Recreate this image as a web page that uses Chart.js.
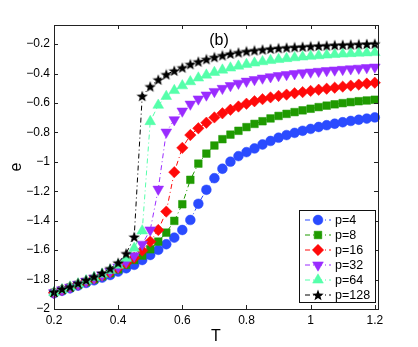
<!DOCTYPE html>
<html>
<head>
<meta charset="utf-8">
<script src="https://cdn.jsdelivr.net/npm/chart.js@4.4.1/dist/chart.umd.min.js"></script>
<style>
  body { margin: 0; background: #fff; }
  #wrap { width: 418px; height: 347px; }
</style>
</head>
<body>
<div id="wrap"><canvas id="eChart" width="418" height="347"></canvas></div>
<script>
var T = [0.2, 0.225, 0.25, 0.275, 0.3, 0.325, 0.35, 0.375, 0.4, 0.425, 0.45, 0.475, 0.5, 0.525, 0.55, 0.575, 0.6, 0.625, 0.65, 0.675, 0.7,
  0.725, 0.75, 0.775, 0.8, 0.825, 0.85, 0.875, 0.9, 0.925, 0.95, 0.975, 1.0, 1.025, 1.05, 1.075, 1.1, 1.125, 1.15, 1.175, 1.2];

var p4 = [-1.893, -1.876, -1.859, -1.841, -1.823, -1.805, -1.787, -1.769, -1.746, -1.723,
  -1.70, -1.667, -1.633, -1.598, -1.56, -1.515, -1.463, -1.395, -1.285, -1.19, -1.111, -1.047, -0.999, -0.961, -0.934,
  -0.909, -0.882, -0.858, -0.836, -0.818, -0.803, -0.789, -0.776, -0.763, -0.751, -0.741, -0.731, -0.722, -0.714, -0.706, -0.698];
var p8 = [-1.89, -1.872, -1.855, -1.836, -1.817, -1.798, -1.778, -1.757, -1.731, -1.70,
  -1.667, -1.637, -1.594, -1.542, -1.481, -1.401, -1.288, -1.122, -1.012, -0.944, -0.889, -0.846, -0.815, -0.789, -0.764,
  -0.742, -0.724, -0.705, -0.688, -0.674, -0.662, -0.65, -0.639, -0.628, -0.618, -0.609, -0.601, -0.594, -0.588, -0.583, -0.578];
var p16 = [-1.89, -1.871, -1.853, -1.833, -1.813, -1.793, -1.772, -1.75, -1.72, -1.688,
  -1.652, -1.603, -1.542, -1.463, -1.338, -1.07, -0.905, -0.818, -0.772, -0.734, -0.698, -0.67, -0.646, -0.624, -0.605,
  -0.588, -0.574, -0.562, -0.552, -0.543, -0.534, -0.526, -0.518, -0.51, -0.503, -0.496, -0.489, -0.482, -0.475, -0.468, -0.462];
var p32 = [-1.889, -1.87, -1.852, -1.832, -1.811, -1.79, -1.769, -1.745, -1.715, -1.68,
  -1.638, -1.56, -1.463, -1.186, -0.798, -0.714, -0.655, -0.608, -0.573, -0.546, -0.522, -0.501, -0.482, -0.466, -0.452,
  -0.441, -0.431, -0.422, -0.414, -0.407, -0.401, -0.395, -0.39, -0.385, -0.38, -0.376, -0.372, -0.368, -0.364, -0.36, -0.356];
var p64 = [-1.887, -1.868, -1.85, -1.829, -1.808, -1.786, -1.763, -1.737, -1.702, -1.655,
  -1.587, -1.469, -0.726, -0.615, -0.555, -0.515, -0.483, -0.455, -0.43, -0.41, -0.392, -0.376, -0.362, -0.349, -0.338,
  -0.328, -0.319, -0.311, -0.304, -0.298, -0.292, -0.287, -0.282, -0.278, -0.274, -0.27, -0.267, -0.264, -0.261, -0.259, -0.257];
var p128 = [-1.884, -1.864, -1.848, -1.825, -1.803, -1.78, -1.755, -1.725, -1.686, -1.623,
  -1.51, -0.553, -0.488, -0.442, -0.406, -0.381, -0.36, -0.337, -0.319, -0.303, -0.289, -0.277, -0.266, -0.257, -0.249,
  -0.243, -0.237, -0.232, -0.228, -0.224, -0.221, -0.218, -0.215, -0.212, -0.21, -0.207, -0.205, -0.203, -0.201, -0.199, -0.197];

var seriesLabels = ["p=4", "p=8", "p=16", "p=32", "p=64", "p=128"];
var xTicks = [0.2, 0.4, 0.6, 0.8, 1, 1.2];
var yTicks = [-2, -1.8, -1.6, -1.4, -1.2, -1, -0.8, -0.6, -0.4, -0.2];

var FONT = '"Liberation Sans", Arial, Helvetica, sans-serif';

// five-point star like matlab's 'p' marker
function makeStar(size, color) {
  var c = document.createElement("canvas");
  c.width = size;
  c.height = size;
  var g = c.getContext("2d");
  var R = size / 2, r = R * 0.42;
  g.fillStyle = color;
  g.beginPath();
  for (var k = 0; k < 10; k++) {
    var a = -Math.PI / 2 + k * Math.PI / 5;
    var rr = k % 2 ? r : R;
    g.lineTo(R + rr * Math.cos(a), R + rr * Math.sin(a) + 0.5);
  }
  g.closePath();
  g.fill();
  return c;
}
var star = makeStar(12, "#000");

var looks = [
  { color: "#2a4bff", style: "circle", radius: 4.9, rotation: 0 },
  { color: "#1f9a00", style: "rect", radius: 5.4, rotation: 0 },
  { color: "#ff0a0a", style: "rectRot", radius: 5.7, rotation: 0 },
  { color: "#9a2cff", style: "triangle", radius: 6.2, rotation: 180 },
  { color: "#55ffaa", style: "triangle", radius: 6.2, rotation: 0 },
  { color: "#000000", style: star, radius: 6, rotation: 0 },
];

var allSeries = [p4, p8, p16, p32, p64, p128];

var datasets = allSeries.map(function (vals, i) {
  var lk = looks[i];
  return {
    label: seriesLabels[i],
    data: vals.map(function (v, j) { return { x: T[j], y: v }; }),
    borderColor: lk.color,
    borderWidth: 1,
    borderDash: [5, 3, 1, 3],
    pointStyle: lk.style,
    pointRadius: lk.radius,
    pointRotation: lk.rotation,
    pointBackgroundColor: lk.color,
    pointBorderColor: lk.color,
    pointBorderWidth: 0.5,
    tension: 0,
    fill: false,
    clip: false,
    order: 6 - i,
  };
});

function fmt(v) {
  var s = String(Math.round(v * 10) / 10);
  return s.replace("-", "\u2212");
}

var framePlugin = {
  id: "frame",
  afterDraw: function (chart) {
    var ctx = chart.ctx;
    var a = chart.chartArea;
    var xs = chart.scales.x, ys = chart.scales.y;
    ctx.save();
    ctx.strokeStyle = "#222";
    ctx.lineWidth = 1;
    ctx.strokeRect(Math.round(a.left) + 0.5, Math.round(a.top) + 0.5,
      Math.round(a.right - a.left), Math.round(a.bottom - a.top));
    ctx.beginPath();
    xTicks.forEach(function (v) {
      var px = Math.round(xs.getPixelForValue(v)) + 0.5;
      ctx.moveTo(px, a.bottom); ctx.lineTo(px, a.bottom - 4);
      ctx.moveTo(px, a.top); ctx.lineTo(px, a.top + 4);
    });
    yTicks.forEach(function (v) {
      var py = Math.round(ys.getPixelForValue(v)) + 0.5;
      ctx.moveTo(a.left, py); ctx.lineTo(a.left + 4, py);
      ctx.moveTo(a.right, py); ctx.lineTo(a.right - 4, py);
    });
    ctx.stroke();

    // panel tag
    ctx.fillStyle = "#000";
    ctx.font = "16px " + FONT;
    ctx.textAlign = "center";
    ctx.textBaseline = "middle";
    ctx.fillText("(b)", 219, 41);

    // legend box in lower right
    var bx = 299.5, by = 210.5, bw = 76, bh = 92;
    ctx.fillStyle = "#fff";
    ctx.fillRect(bx, by, bw, bh);
    ctx.strokeStyle = "#111";
    ctx.strokeRect(bx, by, bw, bh);
    ctx.font = "12.5px " + FONT;
    ctx.textAlign = "left";
    chart.data.datasets.forEach(function (ds, i) {
      var y = 220 + i * 15;
      ctx.save();
      ctx.strokeStyle = ds.borderColor;
      ctx.lineWidth = 1;
      ctx.setLineDash(ds.borderDash);
      ctx.beginPath();
      ctx.moveTo(305, y);
      ctx.lineTo(331, y);
      ctx.stroke();
      ctx.restore();
      ctx.fillStyle = ds.pointBackgroundColor;
      ctx.strokeStyle = ds.pointBorderColor;
      ctx.lineWidth = 0.5;
      Chart.helpers.drawPoint(ctx, {
        pointStyle: ds.pointStyle,
        radius: ds.pointRadius,
        rotation: ds.pointRotation,
        borderWidth: 0.5,
      }, 318, y);
      ctx.fillStyle = "#000";
      ctx.fillText(ds.label, 335, y + 0.5);
    });
    ctx.restore();
  },
};

new Chart(document.getElementById("eChart").getContext("2d"), {
  type: "line",
  data: { datasets: datasets },
  options: {
    responsive: false,
    animation: false,
    layout: { padding: { top: 25, right: 40, left: 0, bottom: 0 } },
    plugins: { legend: { display: false }, tooltip: { enabled: false } },
    scales: {
      x: {
        type: "linear",
        min: 0.2,
        max: 1.21,
        afterBuildTicks: function (scale) {
          scale.ticks = xTicks.map(function (v) { return { value: v }; });
        },
        afterFit: function (scale) { scale.height = 38; },
        grid: { display: false, drawTicks: false },
        border: { display: false },
        ticks: {
          color: "#000",
          font: { family: FONT, size: 12 },
          padding: 4,
          maxRotation: 0,
          callback: function (v) { return fmt(v); },
        },
        title: {
          display: true,
          text: "T",
          color: "#000",
          font: { family: FONT, size: 16 },
          padding: { top: 0, bottom: 1 },
        },
      },
      y: {
        type: "linear",
        min: -2,
        max: -0.07,
        afterBuildTicks: function (scale) {
          scale.ticks = yTicks.map(function (v) { return { value: v }; });
        },
        afterFit: function (scale) { scale.width = 54; },
        grid: { display: false, drawTicks: false },
        border: { display: false },
        ticks: {
          color: "#000",
          font: { family: FONT, size: 12 },
          padding: 4,
          callback: function (v) { return fmt(v); },
        },
        title: {
          display: true,
          text: "e",
          color: "#000",
          font: { family: FONT, size: 16 },
          padding: { top: 7, bottom: 0 },
        },
      },
    },
  },
  plugins: [framePlugin],
});
</script>
</body>
</html>
